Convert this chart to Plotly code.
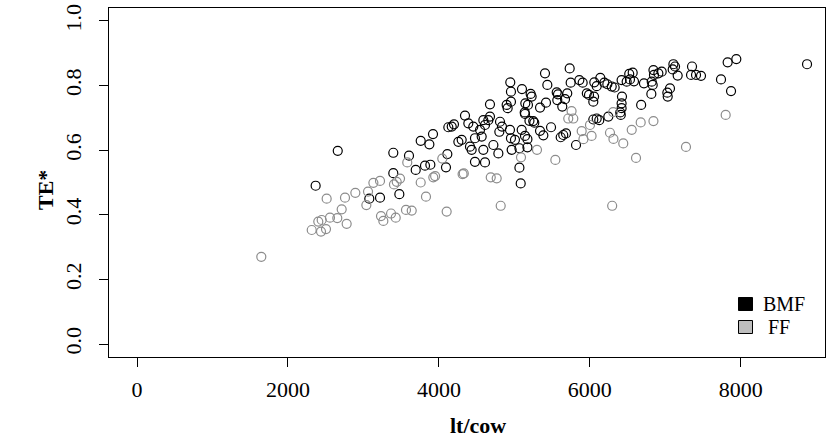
import plotly.graph_objects as go

# BMF farms: milk yield (lt/cow) and TE*
bmf_x = [2367, 2660, 3078, 3220, 3396, 3396, 3476, 3604, 3693, 3759, 3816, 3887, 3874, 3922,
         4094, 4112, 4125, 4170, 4200, 4258, 4302, 4346, 4390, 4412, 4434, 4456, 4478, 4478,
         4545, 4567, 4589, 4589, 4611, 4655, 4611, 4677, 4677, 4722, 4788, 4801, 4810, 4836,
         4898, 4911, 4942, 4946, 4955, 4955, 4955, 4964, 5008, 5067, 5067, 5084, 5097, 5101,
         5137, 5141, 5141, 5173, 5173, 5180, 5145, 5216, 5229, 5264, 5250, 5200, 5340, 5340,
         5384, 5406, 5419, 5437, 5486, 5561, 5578, 5569, 5614, 5648, 5684, 5635, 5671, 5701,
         5733, 5746, 5817, 5861, 5905, 5960, 5989, 6046, 6046, 6056, 6059, 6091, 6091, 6125,
         6139, 6192, 6232, 6245, 6329, 6290, 6403, 6410, 6421, 6421, 6421, 6426, 6488, 6522,
         6568, 6585, 6532, 6680, 6717, 6815, 6820, 6833, 6843, 6850, 6908, 6952, 7027, 7032,
         7062, 7098, 7107, 7129, 7164, 7341, 7354, 7407, 7473, 7738, 7826, 7871, 7941, 8878]
bmf_y = [0.490, 0.598, 0.450, 0.453, 0.529, 0.592, 0.464, 0.583, 0.539, 0.629, 0.552, 0.555, 0.618, 0.650,
         0.547, 0.588, 0.671, 0.673, 0.680, 0.626, 0.632, 0.707, 0.683, 0.611, 0.601, 0.673, 0.637, 0.564,
         0.663, 0.642, 0.693, 0.601, 0.562, 0.693, 0.678, 0.742, 0.704, 0.616, 0.590, 0.657, 0.688, 0.673,
         0.740, 0.730, 0.663, 0.810, 0.781, 0.750, 0.637, 0.601, 0.632, 0.606, 0.546, 0.497, 0.663, 0.789,
         0.717, 0.712, 0.644, 0.634, 0.609, 0.740, 0.745, 0.774, 0.766, 0.685, 0.690, 0.691, 0.732, 0.660,
         0.646, 0.838, 0.747, 0.802, 0.671, 0.779, 0.773, 0.755, 0.640, 0.647, 0.652, 0.735, 0.758, 0.776,
         0.853, 0.809, 0.616, 0.817, 0.809, 0.776, 0.771, 0.750, 0.695, 0.766, 0.810, 0.798, 0.698, 0.693,
         0.824, 0.809, 0.804, 0.704, 0.794, 0.797, 0.717, 0.709, 0.730, 0.745, 0.817, 0.766, 0.812, 0.836,
         0.840, 0.813, 0.819, 0.740, 0.807, 0.774, 0.812, 0.802, 0.848, 0.833, 0.838, 0.843, 0.778, 0.766,
         0.791, 0.850, 0.866, 0.859, 0.831, 0.833, 0.859, 0.833, 0.830, 0.819, 0.872, 0.783, 0.882, 0.866]

# FF farms
ff_x = [1647, 2315, 2402, 2438, 2447, 2504, 2513, 2557, 2654, 2712, 2756, 2778, 2893, 3039, 3061,
        3132, 3220, 3233, 3264, 3366, 3405, 3428, 3441, 3485, 3564, 3581, 3640, 3759, 3829, 3926,
        3950, 4045, 4103, 4314, 4330, 4687, 4766, 4819, 5088, 5300, 5543, 5758, 5781, 5714, 5892,
        6002, 6023, 5915, 6267, 6296, 6309, 6313, 6443, 6555, 6612, 6674, 6843, 7274, 7800]
ff_y = [0.270, 0.353, 0.379, 0.348, 0.384, 0.356, 0.450, 0.391, 0.390, 0.417, 0.453, 0.372, 0.468, 0.430, 0.472,
        0.499, 0.505, 0.396, 0.381, 0.404, 0.494, 0.391, 0.502, 0.512, 0.415, 0.562, 0.413, 0.500, 0.456, 0.516,
        0.520, 0.574, 0.410, 0.526, 0.528, 0.516, 0.513, 0.428, 0.578, 0.601, 0.570, 0.721, 0.698, 0.698, 0.659,
        0.678, 0.644, 0.634, 0.654, 0.428, 0.718, 0.635, 0.621, 0.663, 0.576, 0.686, 0.690, 0.610, 0.709]

x_ticks = [0, 2000, 4000, 6000, 8000]
y_ticks = [0.0, 0.2, 0.4, 0.6, 0.8, 1.0]
y_tick_labels = ["0.0", "0.2", "0.4", "0.6", "0.8", "1.0"]
legend_labels = ["BMF", "FF"]

FONT = "Liberation Serif"
BLACK = "#000000"
GRAY = "#8c8c8c"

fig = go.Figure()
fig.add_trace(go.Scatter(x=bmf_x, y=bmf_y, mode="markers", name="BMF", cliponaxis=False,
                         marker=dict(symbol="circle-open", size=9, color=BLACK, line=dict(width=1.2))))
fig.add_trace(go.Scatter(x=ff_x, y=ff_y, mode="markers", name="FF", cliponaxis=False,
                         marker=dict(symbol="circle-open", size=9, color=GRAY, line=dict(width=1.2))))

W, H = 833, 444
PL, PR, PT, PB = 109, 825, 8, 357          # plot box in window pixels
L, R, T, B = PL, W - PR, PT, H - PB
pw, ph = W - L - R, H - T - B

def px2paper_x(px):
    return (px - L) / pw

def px2paper_y(py):
    return (H - B - py) / ph

shapes = []
annotations = []
# legend squares + labels (bottom right, no box)
leg = [(legend_labels[0], "#000000", 304), (legend_labels[1], "#bebebe", 327)]
for lab, fill, cy in leg:
    shapes.append(dict(type="rect", xref="paper", yref="paper",
                       x0=px2paper_x(738.5), x1=px2paper_x(752.5),
                       y0=px2paper_y(cy + 6.5), y1=px2paper_y(cy - 6.5),
                       fillcolor=fill, line=dict(color="#000000", width=1)))
    annotations.append(dict(xref="paper", yref="paper", x=px2paper_x(762 if lab == "BMF" else 767),
                            y=px2paper_y(cy), text=lab, showarrow=False, xanchor="left",
                            yanchor="middle", borderpad=0,
                            font=dict(family=FONT, size=20, color="black")))

annotations.append(dict(xref="paper", yref="paper", x=px2paper_x(478), y=px2paper_y(425),
                        text="<b>lt/cow</b>", showarrow=False, xanchor="center", yanchor="middle",
                        font=dict(family=FONT, size=22, color="black")))
annotations.append(dict(xref="paper", yref="paper", x=px2paper_x(45), y=px2paper_y(190),
                        text="<b>TE*</b>", showarrow=False, xanchor="center", yanchor="middle",
                        textangle=-90, font=dict(family=FONT, size=22, color="black")))

fig.update_layout(
    width=W, height=H,
    margin=dict(l=L, r=R, t=T, b=B, autoexpand=False),
    paper_bgcolor="white", plot_bgcolor="white",
    showlegend=False,
    font=dict(family=FONT, size=22, color="black"),
    shapes=shapes, annotations=annotations,
)
fig.update_xaxes(range=[-371, 9116], tickvals=x_ticks, ticktext=[str(v) for v in x_ticks],
                 automargin=False, ticklabeloverflow="allow",
                 showgrid=False, zeroline=False, showline=True, mirror=True,
                 linecolor="black", linewidth=1, ticks="outside", ticklen=9,
                 tickcolor="black", tickwidth=1, ticklabelstandoff=4,
                 tickfont=dict(family=FONT, size=22, color="black"))
fig.update_yaxes(range=[-0.04, 1.04], tickvals=y_ticks, ticktext=y_tick_labels,
                 automargin=False, ticklabeloverflow="allow",
                 showgrid=False, zeroline=False, showline=True, mirror=True,
                 linecolor="black", linewidth=1, ticks="outside", ticklen=9,
                 tickcolor="black", tickwidth=1, tickangle=-90, ticklabelstandoff=9,
                 tickfont=dict(family=FONT, size=22, color="black"))

# remove the default page margin so the figure fills the window exactly
fig.write_html("out.html", config={"displayModeBar": False},
               post_script="document.body.style.margin='0';")
